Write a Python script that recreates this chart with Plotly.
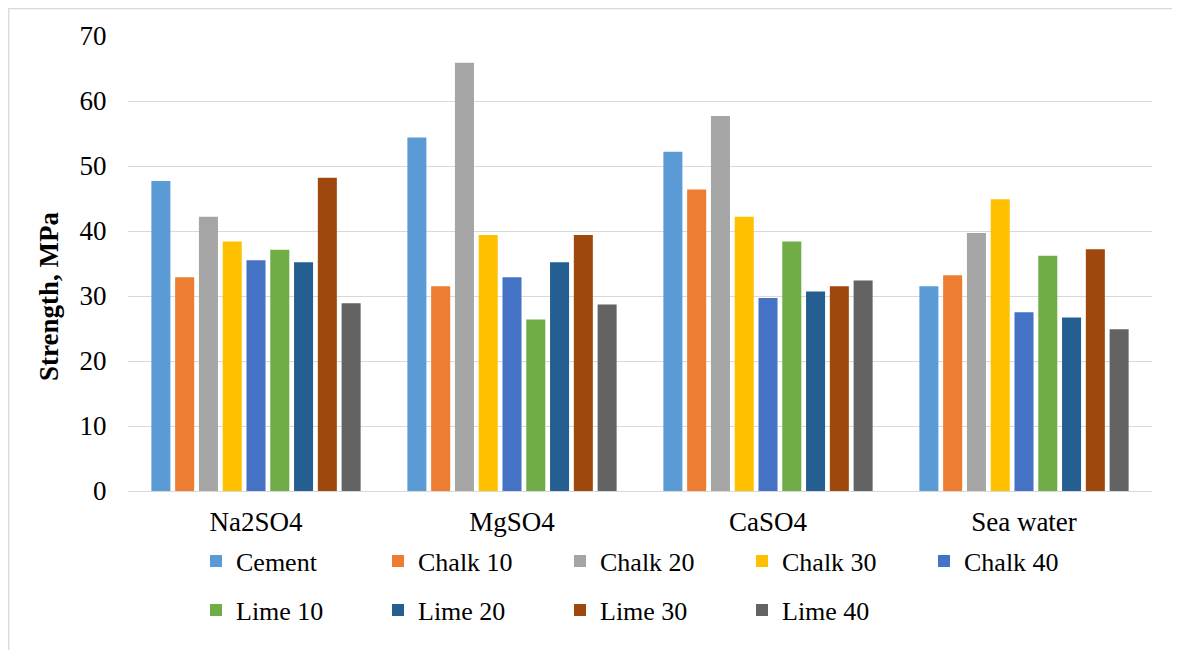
import plotly.graph_objects as go

categories = ["Na2SO4", "MgSO4", "CaSO4", "Sea water"]
series_names = ["Cement", "Chalk 10", "Chalk 20", "Chalk 30", "Chalk 40",
                "Lime 10", "Lime 20", "Lime 30", "Lime 40"]
cement = [47.7, 54.4, 52.2, 31.5]
chalk10 = [32.9, 31.5, 46.4, 33.2]
chalk20 = [42.2, 65.9, 57.7, 39.7]
chalk30 = [38.4, 39.4, 42.2, 44.9]
chalk40 = [35.5, 32.9, 29.7, 27.5]
lime10 = [37.1, 26.4, 38.4, 36.2]
lime20 = [35.2, 35.2, 30.7, 26.7]
lime30 = [48.2, 39.4, 31.5, 37.2]
lime40 = [28.9, 28.7, 32.4, 24.9]
series_values = [cement, chalk10, chalk20, chalk30, chalk40, lime10, lime20, lime30, lime40]
colors = ["#5B9BD5", "#ED7D31", "#A5A5A5", "#FFC000", "#4472C4",
          "#70AD47", "#255E91", "#9E480E", "#636363"]
y_ticks = [0, 10, 20, 30, 40, 50, 60, 70]

FONT = "Liberation Serif, Times New Roman, serif"

fig = go.Figure()
for i, (name, vals, col) in enumerate(zip(series_names, series_values, colors)):
    fig.add_trace(go.Bar(
        x=categories, y=vals, name=name,
        marker=dict(color=col, line=dict(width=0)),
        legend="legend" if i < 5 else "legend2",
    ))

# figure coordinates (page has an 8px body margin)
W, H = 1172, 642
L, R, T, B = 120, 28, 28, 159
pw, ph = W - L - R, H - T - B

def px_x(x):
    return (x - L) / pw

def px_y(y):
    return (H - B - y) / ph

legend_common = dict(
    orientation="h", xanchor="left", yanchor="middle",
    font=dict(family=FONT, size=26, color="#000000"),
    entrywidth=137, entrywidthmode="pixels",
    bgcolor="rgba(0,0,0,0)", itemclick=False, itemdoubleclick=False,
    borderwidth=0,
)

fig.update_layout(
    width=W, height=H,
    margin=dict(l=L, r=R, t=T, b=B),
    paper_bgcolor="white", plot_bgcolor="white",
    barmode="group", bargap=0.164, bargroupgap=0.2,
    font=dict(family=FONT, size=27, color="#000000"),
    showlegend=True,
    legend=dict(x=px_x(188), y=px_y(553), **legend_common),
    legend2=dict(x=px_x(188), y=px_y(602), **legend_common),
    xaxis=dict(
        showgrid=False, showline=True, linecolor="#d9d9d9", linewidth=1.3,
        ticks="outside", ticklen=6, tickcolor="rgba(0,0,0,0)",
        tickfont=dict(family=FONT, size=27, color="#000000"),
    ),
    yaxis=dict(
        range=[0, 70], tickvals=y_ticks, showgrid=True, gridcolor="#d9d9d9",
        gridwidth=1.3, zeroline=False, showline=False,
        ticks="outside", ticklen=15, tickcolor="rgba(0,0,0,0)",
        tickfont=dict(family=FONT, size=27, color="#000000"),
    ),
    annotations=[dict(
        text="<b>Strength, MPa</b>", textangle=-90, showarrow=False,
        xref="paper", yref="paper", x=px_x(41), y=px_y(289),
        xanchor="center", yanchor="middle",
        font=dict(family=FONT, size=27, color="#000000"),
    )],
    shapes=[dict(
        type="rect", xref="paper", yref="paper",
        x0=px_x(0.7), x1=px_x(W + 20), y0=px_y(H + 20), y1=px_y(0.7),
        line=dict(color="#d9d9d9", width=1.3), fillcolor="rgba(0,0,0,0)",
        layer="below",
    )],
)

fig.write_html("out.html")
